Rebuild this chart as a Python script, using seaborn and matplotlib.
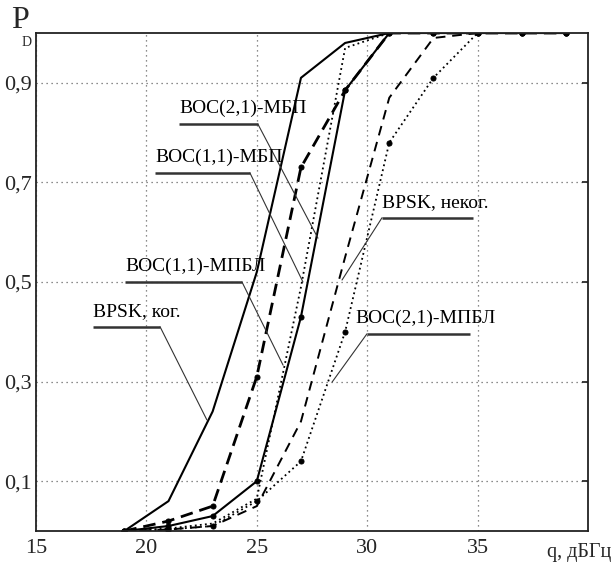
import matplotlib
matplotlib.use("Agg")
import matplotlib.pyplot as plt
import seaborn as sns
import numpy as np

# ---------------- data ----------------
q = [19, 21, 23, 25, 27, 29, 31, 33, 35, 37, 39]

bpsk_kog = [0.0, 0.06, 0.24, 0.52, 0.91, 0.98, 1.0, 1.0, 1.0, 1.0, 1.0]
boc21_mbp = [0.0, 0.01, 0.03, 0.10, 0.43, 0.885, 1.0, 1.0, 1.0, 1.0, 1.0]
boc11_mpbl = [0.0, 0.02, 0.05, 0.31, 0.73, 0.885, 1.0, 1.0, 1.0, 1.0, 1.0]
boc11_mbp = [0.0, 0.005, 0.015, 0.065, 0.49, 0.97, 1.0, 1.0, 1.0, 1.0, 1.0]
bpsk_nekog = [0.0, 0.003, 0.01, 0.05, 0.22, 0.55, 0.87, 0.99, 1.0, 1.0, 1.0]
boc21_mpbl = [0.0, 0.003, 0.01, 0.06, 0.14, 0.40, 0.78, 0.91, 1.0, 1.0, 1.0]

x_ticks = [15, 20, 25, 30, 35]
x_ticklabels = ["15", "20", "25", "30", "35"]
y_ticks = [0.1, 0.3, 0.5, 0.7, 0.9]
y_ticklabels = ["0,1", "0,3", "0,5", "0,7", "0,9"]

# label, text_x, underline x0, x1, underline y, leader from ('left'/'right'), leader end x, y
annotations = [
    ("BOC(2,1)-МБП", 21.48, 21.48, 25.05, 0.817, "right", 27.77, 0.588),
    ("BOC(1,1)-МБП", 20.39, 20.39, 24.69, 0.719, "right", 27.09, 0.500),
    ("BOC(1,1)-МПБЛ", 19.03, 19.03, 24.33, 0.500, "right", 26.19, 0.333),
    ("BPSK, ког.", 17.58, 17.58, 20.62, 0.410, "right", 22.74, 0.223),
    ("BPSK, неког.", 30.67, 30.67, 34.79, 0.629, "left", 28.86, 0.504),
    ("BOC(2,1)-МПБЛ", 29.45, 29.99, 34.66, 0.396, "left", 28.41, 0.299),
]

# ---------------- style ----------------
sns.set_theme(style="white")
plt.rcParams["font.family"] = ["Liberation Serif", "DejaVu Serif"]
plt.rcParams["axes.edgecolor"] = "#222222"

fig = plt.figure(figsize=(6.13, 5.72), dpi=100)
ax = fig.add_axes([36 / 613, 41 / 572, 552 / 613, 498 / 572])

series = [
    (bpsk_kog, dict(linestyle="-", linewidth=1.5, marker=None)),
    (boc21_mbp, dict(linestyle="-", linewidth=1.5, marker="o", markersize=3.6)),
    (boc11_mpbl, dict(linestyle=(0, (4.5, 2.5)), linewidth=2.0, marker="o", markersize=3.6)),
    (boc11_mbp, dict(linestyle=(0, (1, 1.8)), linewidth=1.3, marker=None)),
    (bpsk_nekog, dict(linestyle=(0, (5, 3.5)), linewidth=1.4, marker=None)),
    (boc21_mpbl, dict(linestyle=(0, (1, 1.8)), linewidth=1.3, marker="o", markersize=3.6)),
]
for vals, kw in series:
    sns.lineplot(x=q, y=vals, ax=ax, color="black", markeredgecolor="black",
                 clip_on=True, **kw)

ax.set_xlim(15, 40)
ax.set_ylim(0, 1)
ax.set_xticks(x_ticks)
ax.set_xticklabels(x_ticklabels, fontsize=16)
ax.set_yticks(y_ticks)
ax.set_yticklabels(y_ticklabels, fontsize=16)
ax.tick_params(axis="x", direction="in", length=4, pad=6, color="#222222")
ax.tick_params(axis="y", direction="in", length=4, pad=3, right=True, color="#222222")
ax.grid(True, color="#666666", linestyle=(0, (1, 3)), linewidth=0.9)
for s in ax.spines.values():
    s.set_linewidth(1.3)
    s.set_color("#222222")
ax.set_xlabel("")
ax.set_ylabel("")

# annotations
for label, tx, x0, x1, uy, side, ex, ey in annotations:
    ax.text(tx, uy + 0.022, label, fontsize=14, ha="left", va="baseline", color="black")
    ax.plot([x0, x1], [uy, uy], color="#333333", linewidth=1.8, solid_capstyle="butt")
    sx = x1 if side == "right" else x0
    ax.plot([sx, ex], [uy, ey], color="#333333", linewidth=0.8)

fig.text(20 / 613, 1 - 21 / 572, "P", fontsize=23, ha="center", va="center")
fig.text(27 / 613, 1 - 42 / 572, "D", fontsize=10, ha="center", va="center")
fig.text(611 / 613, 1 - 553 / 572, "q, дБГц", fontsize=14.5, ha="right", va="center")

fig.savefig("out.png", dpi=100)
